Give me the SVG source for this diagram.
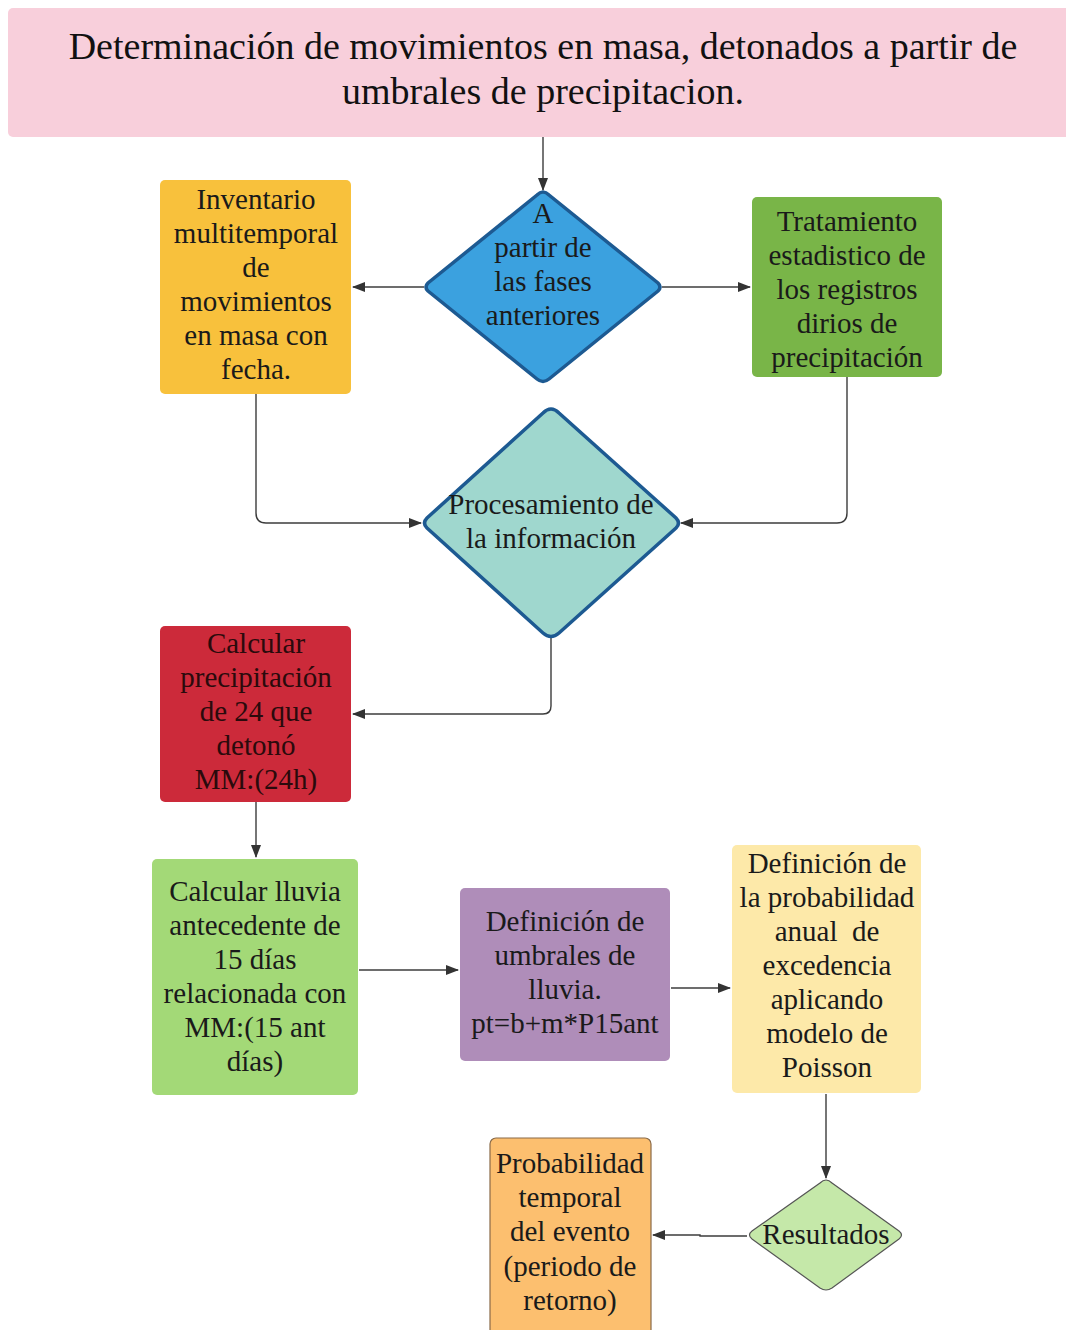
<svg xmlns="http://www.w3.org/2000/svg" width="1066" height="1330" viewBox="0 0 1066 1330">
  <style>
    .t { font-family: "Liberation Serif", "Times New Roman", serif; font-size: 29px; fill: #1a1a1a; text-anchor: middle; }
    .title { font-size: 38px; fill: #111; }
    .link { fill: none; stroke: #3c3c3c; stroke-width: 1.4; }
    .box { stroke: none; }
  </style>
  <defs>
    <marker id="arrow" viewBox="0 0 13 10" refX="12" refY="5" markerWidth="13" markerHeight="10" markerUnits="userSpaceOnUse" orient="auto">
      <path d="M0,0 L13,5 L0,10 Z" fill="#333"/>
    </marker>
  </defs>
  <rect width="1066" height="1330" fill="#fff"/>

  <!-- title banner -->
  <g id="title">
    <rect x="8" y="8" width="1066" height="129" rx="5" fill="#f8cfdb"/>
    <text class="t title" x="543" y="59">Determinación de movimientos en masa, detonados a partir de</text>
    <text class="t title" x="543" y="104">umbrales de precipitacion.</text>
  </g>

  <!-- connectors -->
  <g id="connectors">
    <path class="link" d="M543,137 V190" marker-end="url(#arrow)"/>
    <path class="link" d="M424,287 H353" marker-end="url(#arrow)"/>
    <path class="link" d="M662,287 H750" marker-end="url(#arrow)"/>
    <path class="link" d="M256,394 V513 Q256,523 266,523 H421" marker-end="url(#arrow)"/>
    <path class="link" d="M847,377 V513 Q847,523 837,523 H681" marker-end="url(#arrow)"/>
    <path class="link" d="M551,637 V706 Q551,714 543,714 H353" marker-end="url(#arrow)"/>
    <path class="link" d="M256,802 V857" marker-end="url(#arrow)"/>
    <path class="link" d="M359,970 H458" marker-end="url(#arrow)"/>
    <path class="link" d="M671,988 H730" marker-end="url(#arrow)"/>
    <path class="link" d="M826,1094 V1178" marker-end="url(#arrow)"/>
    <path class="link" d="M747,1236 H700 V1235 H653" marker-end="url(#arrow)"/>
  </g>

  <!-- decision: starting point -->
  <g id="inicio">
    <path d="M543,192 Q546,192 549,195 L658,283 Q662,287 658,291 L549,379 Q543,384 537,379 L428,291 Q424,287 428,283 L537,195 Q540,192 543,192 Z" fill="#3ba1df" stroke="#1d5a92" stroke-width="3.5"/>
    <text class="t" x="543" y="223">A</text>
    <text class="t" x="543" y="257">partir de</text>
    <text class="t" x="543" y="291">las fases</text>
    <text class="t" x="543" y="325">anteriores</text>
  </g>

  <g id="inventario">
    <rect class="box" x="160" y="180" width="191" height="214" rx="5" fill="#f8c13c"/>
    <text class="t" x="256" y="209">Inventario</text>
    <text class="t" x="256" y="243">multitemporal</text>
    <text class="t" x="256" y="277">de</text>
    <text class="t" x="256" y="311">movimientos</text>
    <text class="t" x="256" y="345">en masa con</text>
    <text class="t" x="256" y="379">fecha.</text>
  </g>

  <g id="tratamiento">
    <rect class="box" x="752" y="197" width="190" height="180" rx="5" fill="#79b548"/>
    <text class="t" x="847" y="231">Tratamiento</text>
    <text class="t" x="847" y="265">estadistico de</text>
    <text class="t" x="847" y="299">los registros</text>
    <text class="t" x="847" y="333">dirios de</text>
    <text class="t" x="847" y="367">precipitación</text>
  </g>

  <g id="procesamiento">
    <path d="M551,409 Q555,409 559,413 L676,518 Q681,523 676,528 L559,633 Q551,640 543,633 L427,528 Q422,523 427,518 L543,413 Q547,409 551,409 Z" fill="#9fd7ce" stroke="#1d5a92" stroke-width="3.5"/>
    <text class="t" x="551" y="514">Procesamiento de</text>
    <text class="t" x="551" y="548">la información</text>
  </g>

  <g id="calcular24">
    <rect class="box" x="160" y="626" width="191" height="176" rx="5" fill="#cc2a3a"/>
    <text class="t" x="256" y="653" style="fill:#2a0a0c">Calcular</text>
    <text class="t" x="256" y="687" style="fill:#2a0a0c">precipitación</text>
    <text class="t" x="256" y="721" style="fill:#2a0a0c">de 24 que</text>
    <text class="t" x="256" y="755" style="fill:#2a0a0c">detonó</text>
    <text class="t" x="256" y="789" style="fill:#2a0a0c">MM:(24h)</text>
  </g>

  <g id="lluvia15">
    <rect class="box" x="152" y="859" width="206" height="236" rx="5" fill="#a3d977"/>
    <text class="t" x="255" y="901">Calcular lluvia</text>
    <text class="t" x="255" y="935">antecedente de</text>
    <text class="t" x="255" y="969">15 días</text>
    <text class="t" x="255" y="1003">relacionada con</text>
    <text class="t" x="255" y="1037">MM:(15 ant</text>
    <text class="t" x="255" y="1071">días)</text>
  </g>

  <g id="umbrales">
    <rect class="box" x="460" y="888" width="210" height="173" rx="5" fill="#af8db9"/>
    <text class="t" x="565" y="931">Definición de</text>
    <text class="t" x="565" y="965">umbrales de</text>
    <text class="t" x="565" y="999">lluvia.</text>
    <text class="t" x="565" y="1033">pt=b+m*P15ant</text>
  </g>

  <g id="poisson">
    <rect class="box" x="732" y="845" width="189" height="248" rx="5" fill="#fde9a9"/>
    <text class="t" x="827" y="873">Definición de</text>
    <text class="t" x="827" y="907">la probabilidad</text>
    <text class="t" x="827" y="941" xml:space="preserve">anual  de</text>
    <text class="t" x="827" y="975">excedencia</text>
    <text class="t" x="827" y="1009">aplicando</text>
    <text class="t" x="827" y="1043">modelo de</text>
    <text class="t" x="827" y="1077">Poisson</text>
  </g>

  <g id="resultados">
    <path d="M826,1180 Q829,1180 832,1183 L899,1231 Q904,1235 899,1239 L832,1288 Q826,1292 820,1288 L752,1239 Q747,1235 752,1231 L820,1183 Q823,1180 826,1180 Z" fill="#c5e8a9" stroke="#555" stroke-width="1.2"/>
    <text class="t" x="826" y="1244">Resultados</text>
  </g>

  <g id="periodo">
    <rect x="490" y="1138" width="161" height="200" rx="6" fill="#fcbf6f" stroke="#8a6a48" stroke-width="1.2"/>
    <text class="t" x="570" y="1173">Probabilidad</text>
    <text class="t" x="570" y="1207">temporal</text>
    <text class="t" x="570" y="1241">del evento</text>
    <text class="t" x="570" y="1276">(periodo de</text>
    <text class="t" x="570" y="1310">retorno)</text>
  </g>
</svg>
